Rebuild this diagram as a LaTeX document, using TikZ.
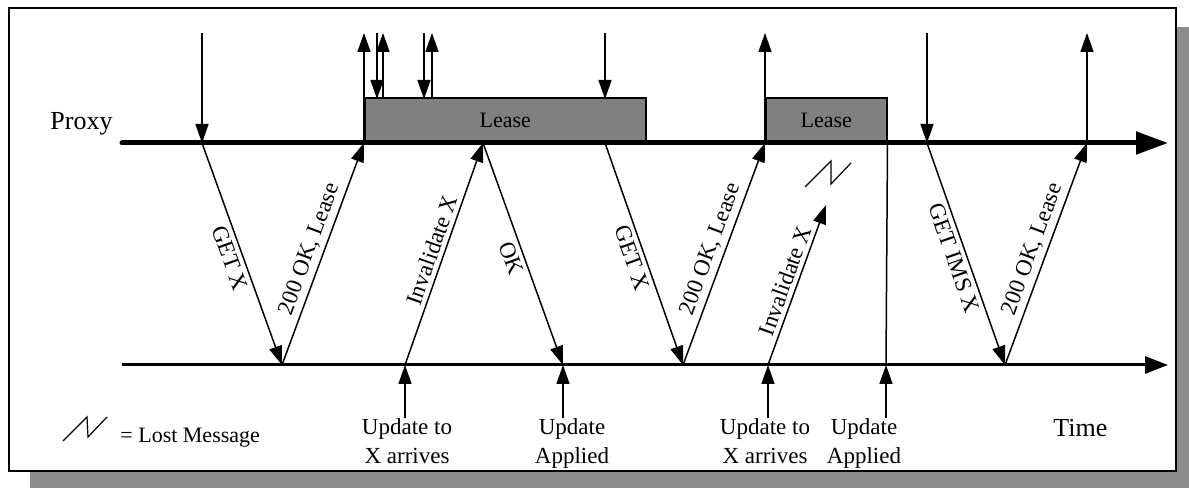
\documentclass[tikz,border=0pt]{standalone}
\usepackage{fontspec}
\setmainfont{Liberation Serif}
\usetikzlibrary{arrows.meta}
\begin{document}
\begin{tikzpicture}[x=0.5pt,y=-0.5pt,
  msg/.style={draw, line width=0.75pt, -{Triangle[length=9.5pt,width=6.5pt]}},
  lbl/.style={font=\fontsize{11.5}{13}\selectfont, inner sep=2pt, sloped, pos=0.5},
  leasebox/.style={draw, line width=0.75pt, fill=black!50, inner sep=0pt,
    font=\fontsize{11}{13}\selectfont, anchor=south west, minimum height=22pt},
  note/.style={font=\fontsize{11.5}{14.5}\selectfont, align=center, inner sep=0pt, anchor=north},
  lost/.style={line width=0.6pt, line join=miter},
  big/.style={font=\fontsize{13}{15}\selectfont, inner sep=0pt, anchor=base west}
]
\useasboundingbox (0,0) rectangle (1189,490);
% drop shadow and frame
\fill[black!45] (30,27) rectangle (1189,488);
\draw[line width=1pt, fill=white] (9,8) rectangle (1176,471);

% lease periods on the proxy time line
\node[leasebox, minimum width=140.5pt] (lease1) at (364,143) {Lease};
\node[leasebox, minimum width=60.5pt] (lease2) at (765,143) {Lease};

% time lines
\coordinate (proxyL) at (122,143);
\coordinate (proxyR) at (1168,143);
\coordinate (servL) at (122,365);
\coordinate (servR) at (1168,365);
\draw[line width=2.5pt, line cap=round, -{Triangle[length=16pt,width=11pt]}] (proxyL) -- (proxyR);
\draw[line width=1.5pt, -{Triangle[length=11.5pt,width=8.5pt]}] (servL) -- (servR);

% events on the proxy line
\coordinate (pa) at (202,143);
\coordinate (pb) at (364,143);
\coordinate (pc) at (483,143);
\coordinate (pd) at (605,143);
\coordinate (pe) at (765,143);
\coordinate (pf) at (927,143);
\coordinate (pg) at (1087,143);
% events on the server line
\coordinate (sa) at (282,365);
\coordinate (sb) at (405,365);
\coordinate (sc) at (563,365);
\coordinate (sd) at (683,365);
\coordinate (se) at (768,365);
\coordinate (sf) at (886,365);
\coordinate (sg) at (1005,365);
\coordinate (lt) at (826,205);

% client requests and replies above the proxy line
\coordinate (ta) at (202,33);
\coordinate (tb) at (364,33);
\coordinate (tc) at (377,33);
\coordinate (td) at (383,33);
\coordinate (te) at (424,33);
\coordinate (tf) at (432,33);
\coordinate (tg) at (605,33);
\coordinate (th) at (765,33);
\coordinate (ti) at (927,33);
\coordinate (tj) at (1087,33);
\coordinate (bc) at (377,99);
\coordinate (bd) at (383,99);
\coordinate (be) at (424,99);
\coordinate (bf) at (432,99);
\coordinate (bg) at (605,99);

\draw[msg] (ta) -- (pa);
\draw[msg] (pb) -- (tb);
\draw[msg] (tc) -- (bc);
\draw[msg] (bd) -- (td);
\draw[msg] (te) -- (be);
\draw[msg] (bf) -- (tf);
\draw[msg] (tg) -- (bg);
\draw[msg] (pe) -- (th);
\draw[msg] (ti) -- (pf);
\draw[msg] (pg) -- (tj);

% messages between proxy and server
\draw[msg] (pa) -- node[lbl, below] {GET X} (sa);
\draw[msg] (sa) -- node[lbl, above] {200 OK, Lease} (pb);
\draw[msg] (sb) -- node[lbl, above] {Invalidate X} (pc);
\draw[msg] (pc) -- node[lbl, below] {OK} (sc);
\draw[msg] (pd) -- node[lbl, below] {GET X} (sd);
\draw[msg] (sd) -- node[lbl, above] {200 OK, Lease} (pe);
\draw[msg] (se) -- node[lbl, above] {Invalidate X} (lt);
\draw[msg] (pf) -- node[lbl, below] {GET IMS X} (sg);
\draw[msg] (sg) -- node[lbl, above] {200 OK, Lease} (pg);

% lease expiry
\draw[line width=0.75pt] (lease2.south east) -- (sf);

% lost message marks
\draw[lost] (805,187) -- (831,161) -- (831,184) -- (851,163);
\draw[lost] (63,441) -- (87,417) -- (88,437) -- (107,417);

% server events below the server line
\node[note] (u1) at (407,418) {Update to\\X arrives};
\node[note] (a1) at (572,418) {Update\\Applied};
\node[note] (u2) at (765,418) {Update to\\X arrives};
\node[note] (a2) at (864,418) {Update\\Applied};
\draw[msg] (u1.north -| sb) -- (sb);
\draw[msg] (a1.north -| sc) -- (sc);
\draw[msg] (u2.north -| se) -- (se);
\draw[msg] (a2.north -| sf) -- (sf);

% labels
\node[big] (proxy) at (50,130) {Proxy};
\node[big] (time) at (1053,437) {Time};
\node[font=\fontsize{11}{13}\selectfont, inner sep=0pt, anchor=base west] (legend) at (120,443) {= Lost Message};
\end{tikzpicture}
\end{document}
